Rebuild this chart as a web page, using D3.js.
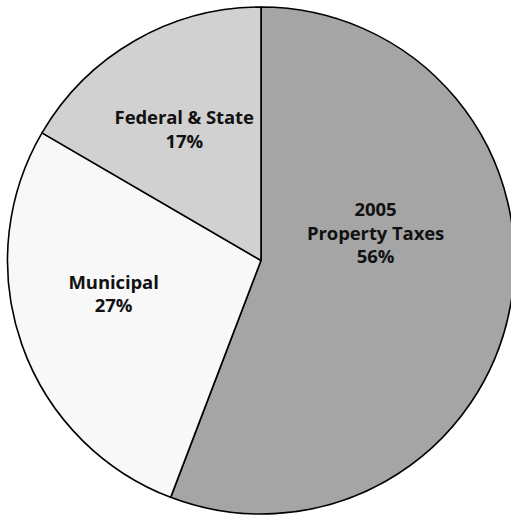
<!DOCTYPE html>
<html>
<head>
<meta charset="utf-8">
<script src="https://cdn.jsdelivr.net/npm/d3@7"></script>
<style>
html, body { margin: 0; padding: 0; background: #ffffff; }
svg { display: block; }
</style>
</head>
<body>
<svg id="chart" width="511" height="515"></svg>
<script>
const categories = ["2005 Property Taxes", "Municipal", "Federal & State"];
const values = [55.8, 27.6, 16.6];
const labelLines = [["2005", "Property Taxes", "56%"], ["Municipal", "27%"], ["Federal & State", "17%"]];
const colors = ["#a5a5a5", "#f8f8f8", "#d1d1d1"];

const W = 511, H = 515;
const cx = 261, cy = 260.5, R = 253.5;
const svg = d3.select("#chart");
const g = svg.append("g").attr("transform", `translate(${cx},${cy})`);

const pie = d3.pie().sort(null).value(d => d)(values);
const arc = d3.arc().innerRadius(0).outerRadius(R);
const labelArc = d3.arc().innerRadius(R * 0.6).outerRadius(R * 0.6);

g.selectAll("path.slice").data(pie).enter().append("path")
  .attr("class", "slice")
  .attr("d", arc)
  .attr("fill", (d, i) => colors[i])
  .attr("stroke", "#000")
  .attr("stroke-width", 1.6)
  .attr("stroke-linejoin", "round");

// label nudges from the centroid (Excel-style manual placement)
const nudge = [[-35, -55], [-4, -17], [-1, 1]];
const lineH = 23.5;
g.selectAll("text.lbl").data(pie).enter().append("text")
  .attr("class", "lbl")
  .attr("font-family", "'Open Sans', sans-serif")
  .attr("font-weight", 700)
  .attr("font-size", 18.5)
  .attr("letter-spacing", -0.1)
  .attr("fill", "#111")
  .attr("text-anchor", "middle")
  .each(function(d, i) {
    const [x, y] = labelArc.centroid(d);
    const lines = labelLines[i];
    const x0 = x + nudge[i][0], y0 = y + nudge[i][1];
    const top = y0 - (lines.length - 1) * lineH / 2;
    d3.select(this).selectAll("tspan").data(lines).enter().append("tspan")
      .attr("x", x0)
      .attr("y", (t, j) => top + j * lineH)
      .attr("dy", "0.35em")
      .text(t => t);
  });
</script>
</body>
</html>
